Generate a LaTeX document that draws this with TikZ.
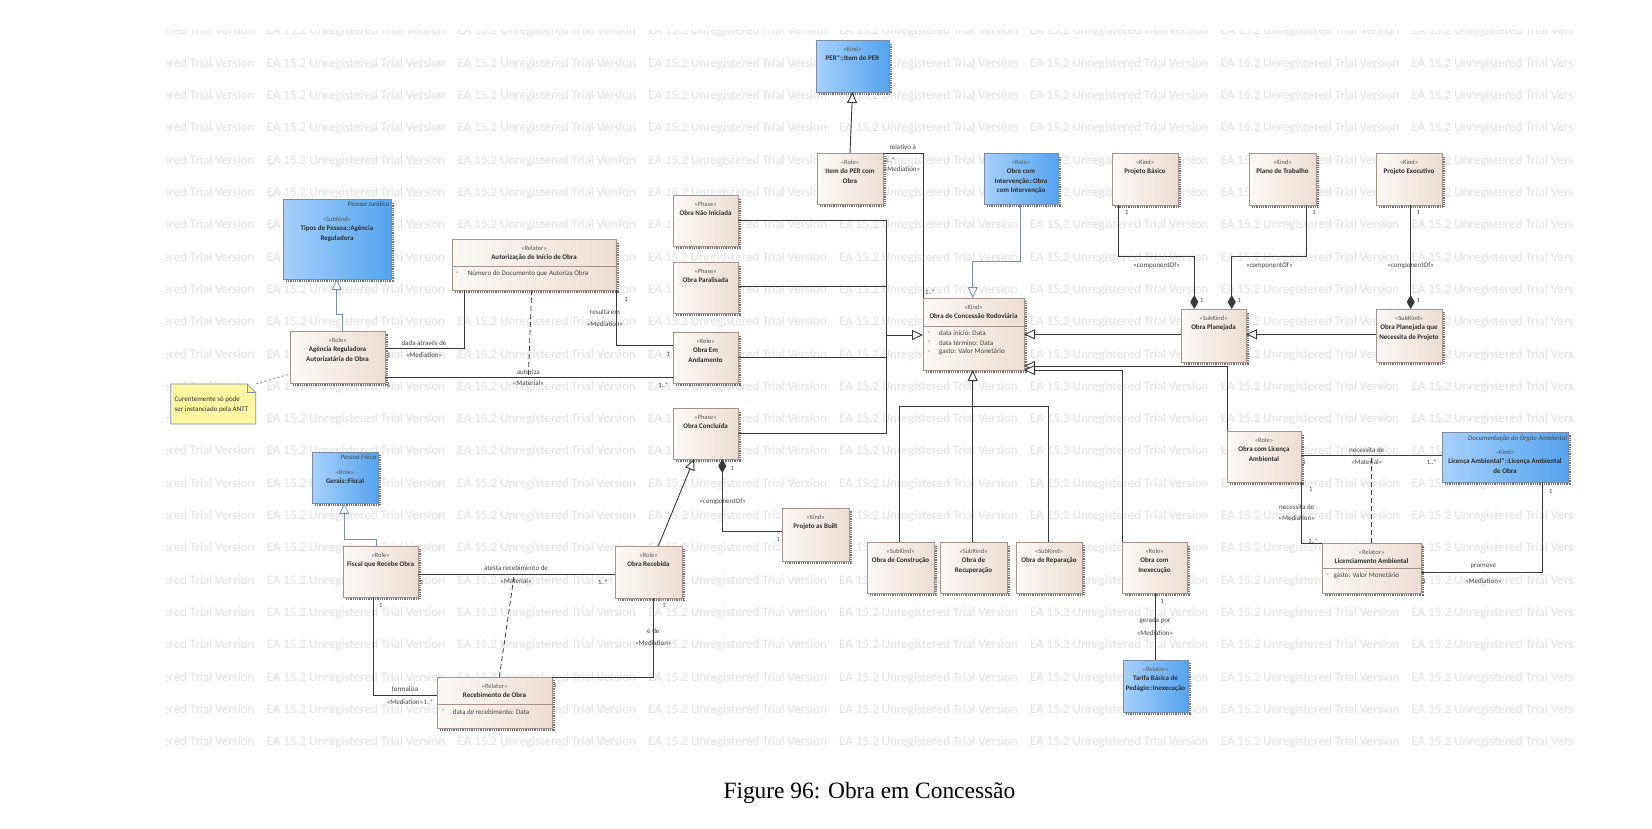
\documentclass[tikz,border=0pt]{standalone}
\usepackage{fontspec}
\setmainfont{Carlito}
\newfontfamily\capfont{Liberation Serif}
\usetikzlibrary{arrows.meta,calc}
\definecolor{lnc}{HTML}{3A3A3A}
\definecolor{genc}{HTML}{7F8FB2}
\definecolor{creamL}{HTML}{FCF9F5}
\definecolor{creamR}{HTML}{ECDDD3}
\definecolor{blueL}{HTML}{A6D1FA}
\definecolor{blueR}{HTML}{55A3F0}
\definecolor{bordc}{HTML}{A8948C}
\definecolor{bbord}{HTML}{7A8CA8}
\definecolor{notec}{HTML}{FBF7A0}
\definecolor{wmc}{HTML}{E2E2E2}
\definecolor{txtc}{HTML}{2E2E2E}
\definecolor{stc}{HTML}{5A5A5A}
\definecolor{lblc}{HTML}{444444}
\newcommand\stf{\fontsize{6.5}{8}\selectfont\color{stc}}
\newcommand\nmf{\fontsize{7}{9.4}\selectfont\bfseries\color{txtc}}
\tikzset{
  cream/.style={draw=bordc, line width=0.5pt, left color=creamL, right color=creamR},
  bluebox/.style={draw=bbord, line width=0.5pt, left color=blueL, right color=blueR},
  shadowl/.style={draw=black!55, line width=1.8pt, dash pattern=on 0.9pt off 0.9pt},
  assoc/.style={draw=lnc, line width=0.9pt},
  genl/.style={draw=lnc, line width=0.9pt, -{Triangle[length=11pt,width=10pt,fill=white]}},
  genb/.style={draw=genc, line width=0.8pt, -{Triangle[length=11pt,width=10pt,fill=white]}},
  compl/.style={draw=lnc, line width=0.9pt, -{Diamond[length=14pt,width=8pt]}},
  comps/.style={draw=lnc, line width=0.9pt, {Diamond[length=14pt,width=8pt]}-},
  dashl/.style={draw=lnc, line width=0.8pt, dash pattern=on 5pt off 3pt},
  notel/.style={draw=genc, line width=0.7pt, dash pattern=on 2.5pt off 2pt},
  lbl/.style={font=\fontsize{7}{8}\selectfont, text=lblc, inner sep=0pt},
  mult/.style={font=\fontsize{6.5}{8}\selectfont, text=lblc, inner sep=0pt},
  attr/.style={font=\fontsize{7}{8}\selectfont, text=lblc, inner sep=0pt, anchor=west},
  pkg/.style={font=\fontsize{6.8}{8}\selectfont\itshape, text=lblc, inner sep=0pt, anchor=north east},
  wm/.style={font=\fontsize{13}{15}\selectfont, text=wmc, inner sep=0pt, anchor=west},
}
\newcommand\umlbox[9][0]{%
  \node[#7, anchor=north west, inner sep=0pt, outer sep=0pt] (#2) at (#3,#4)
  {\makebox[\dimexpr #5pt-#3pt\relax][c]{\parbox[c][\dimexpr #6pt-#4pt\relax][t]{\dimexpr #5pt-#3pt+40pt\relax}{\centering\rule{0pt}{\dimexpr 11pt+#1pt\relax}{\stf #8}\par\vspace{0.3pt}{\nmf #9\par}}}};
  \draw[shadowl] ([xshift=3pt,yshift=-1.6pt]#2.south west) -- ([xshift=1.6pt,yshift=-1.6pt]#2.south east) -- ([xshift=1.6pt,yshift=-3pt]#2.north east);
}
\begin{document}
\begin{tikzpicture}[x=1pt,y=-1pt]
\useasboundingbox (0,0) rectangle (1652,828);
\fill[white] (0,0) rectangle (1652,828);
% watermark
\begin{scope}
\clip (166,30) rectangle (1572,746);
\foreach \r in {0,...,22}{\foreach \c in {-1,...,7}{
  \node[wm] (wm-\r-\c) at ({266.6+190.8*\c},{31.6+32.3*\r}) {EA 15.2 Unregistered Trial Version};}}
\end{scope}
% boxes
\umlbox{agencia}{290}{331}{385}{383}{cream}{«Role»}{Agência Reguladora\\Autorizatária de Obra}
\umlbox{autoriz}{452}{239}{616}{290}{cream}{«Relator»}{Autorização de Início de Obra}
\umlbox{naoinic}{673}{195}{738}{246}{cream}{«Phase»}{Obra Não Iniciada}
\umlbox{paralis}{673}{262}{738}{313}{cream}{«Phase»}{Obra Paralisada}
\umlbox{andam}{673}{332}{738}{383}{cream}{«Role»}{Obra Em\\Andamento}
\umlbox{conclu}{673}{408}{738}{459}{cream}{«Phase»}{Obra Concluída}
\umlbox{itemper}{817}{153}{883}{204}{cream}{«Role»}{Item do PER com\\Obra}
\umlbox{concess}{923}{298}{1024}{370}{cream}{«Kind»}{Obra de Concessão Rodoviária}
\umlbox{pbasico}{1112}{153}{1178}{205}{cream}{«Kind»}{Projeto Básico}
\umlbox{ptrab}{1249}{153}{1316}{205}{cream}{«Kind»}{Plano de Trabalho}
\umlbox{pexec}{1376}{153}{1442}{205}{cream}{«Kind»}{Projeto Executivo}
\umlbox{oplan}{1181}{309}{1246}{362}{cream}{«SubKind»}{Obra Planejada}
\umlbox{oplanp}{1376}{309}{1442}{362}{cream}{«SubKind»}{Obra Planejada que\\Necessita de Projeto}
\umlbox{licobra}{1227}{431}{1301}{482}{cream}{«Role»}{Obra com Licença\\Ambiental}
\umlbox{licenc}{1322}{543}{1421}{593}{cream}{«Relator»}{Licenciamento Ambiental}
\umlbox{inexec}{1122}{542}{1187}{593}{cream}{«Role»}{Obra com\\Inexecução}
\umlbox{constr}{867}{542}{934}{593}{cream}{«SubKind»}{Obra de Construção}
\umlbox{recup}{940}{542}{1007}{593}{cream}{«SubKind»}{Obra de\\Recuperação}
\umlbox{repar}{1016}{542}{1082}{593}{cream}{«SubKind»}{Obra de Reparação}
\umlbox{asbuilt}{782}{508}{849}{561}{cream}{«Kind»}{Projeto as Built}
\umlbox{recebida}{615}{546}{682}{598}{cream}{«Role»}{Obra Recebida}
\umlbox{fiscalr}{343}{546}{418}{597}{cream}{«Role»}{Fiscal que Recebe Obra}
\umlbox{receb}{437}{677}{552}{728}{cream}{«Relator»}{Recebimento de Obra}
\umlbox[11]{pessoaj}{283}{199}{391}{279}{bluebox}{«SubKind»}{Tipos de Pessoa::Agência\\Reguladora}
\umlbox{per}{816}{40}{889}{92}{bluebox}{«Kind»}{PER*::Item do PER}
\umlbox{interv}{984}{153}{1058}{204}{bluebox}{«Role»}{Obra com\\Intervenção::Obra\\com Intervenção}
\umlbox[11]{fiscal}{312}{452}{378}{503}{bluebox}{«Role»}{Gerais::Fiscal}
\umlbox[11]{licenca}{1442}{432}{1568}{482}{bluebox}{«Kind»}{Licença Ambiental*::Licença Ambiental\\de Obra}
\umlbox{tarifa}{1123}{660}{1188}{712}{bluebox}{«Relator»}{Tarifa Básica de\\Pedágio::Inexecução}
% package names
\node[pkg] (pessoaj-p) at ([xshift=-1.5pt,yshift=-3pt]pessoaj.north east) {Pessoa Jurídica};
\node[pkg] (fiscal-p) at ([xshift=-1.5pt,yshift=-3pt]fiscal.north east) {Pessoa Física};
\node[pkg] (licenca-p) at ([xshift=-1pt,yshift=-3pt]licenca.north east) {Documentação do Órgão Ambiental};
% compartments and attributes
\draw[bordc, line width=0.5pt] (autoriz.west |- 0,266.3) -- (autoriz.east |- 0,266.3);
\node[attr] (autoriz-d1) at (456,273.3) {-};
\node[attr] (autoriz-a1) at (467.7,273.3) {Número do Documento que Autoriza Obra};
\draw[bordc, line width=0.5pt] (concess.west |- 0,326) -- (concess.east |- 0,326);
\node[attr] (concess-d1) at (927.7,333.3) {-};
\node[attr] (concess-a1) at (939,333.3) {data início: Data};
\node[attr] (concess-d2) at (927.7,342.7) {-};
\node[attr] (concess-a2) at (939,342.7) {data término: Data};
\node[attr] (concess-d3) at (927.7,352) {-};
\node[attr] (concess-a3) at (939,352) {gasto: Valor Monetário};
\draw[bordc, line width=0.5pt] (licenc.west |- 0,568.3) -- (licenc.east |- 0,568.3);
\node[attr] (licenc-d1) at (1326.7,575.7) {-};
\node[attr] (licenc-a1) at (1333.3,575.7) {gasto: Valor Monetário};
\draw[bordc, line width=0.5pt] (receb.west |- 0,704.3) -- (receb.east |- 0,704.3);
\node[attr] (receb-d1) at (441.7,711.7) {-};
\node[attr] (receb-a1) at (452.7,711.7) {data de recebimento: Data};
% note
\node[inner sep=0pt, outer sep=0pt, minimum width=85pt, minimum height=40pt, anchor=north west] (note) at (170.7,384) {};
\filldraw[fill=notec, draw=genc, line width=0.6pt] (note.north west) -- ([xshift=-8.5pt]note.north east) -- ([yshift=-8.5pt]note.north east) -- (note.south east) -- (note.south west) -- cycle;
\draw[genc, line width=0.6pt] ([xshift=-8.5pt]note.north east) -- ([xshift=-8.5pt,yshift=-8.5pt]note.north east) -- ([yshift=-8.5pt]note.north east);
\node[font=\fontsize{7}{10}\selectfont, text=txtc, inner sep=0pt, anchor=west, align=left] (note-t) at (174.5,404.3) {Curentemente só pode\\ser instanciado pela ANTT};
\draw[notel] (note.north east) -- (agencia.west |- 0,374);
% connectors
\draw[assoc] (agencia.east |- 0,348.3) -| (autoriz.south -| 464.3,0);
\draw[assoc] (agencia.east |- 0,377.3) -- (andam.west |- 0,377.3);
\coordinate (autz-mid) at (528.3,377.3);
\draw[dashl] (autoriz.south -| 531.7,0) -- (autz-mid);
\draw[assoc] (autoriz.south east) |- (andam.west |- 0,345.7);
\coordinate (phbus) at (886,335);
\draw[assoc] (naoinic.east |- 0,220.7) -- (phbus |- 0,220.7) -- (phbus |- 0,433.3) -- (conclu.east |- 0,433.3);
\draw[assoc] (paralis.east |- 0,286.7) -- (phbus |- 0,286.7);
\draw[assoc] (andam.east |- 0,357.3) -- (phbus |- 0,357.3);
\draw[genl] (phbus) -- (concess.west |- phbus);
\draw[assoc] (itemper.north east) -- (concess.north west |- itemper.north east) -- (concess.north west);
\draw[genl] (itemper.north) -- (per.south);
\draw[genb] (interv.south -| 1020.7,0) -- (1020.7,261.7) -| (concess.north -| 972.7,0);
\draw[genl] (oplan.west |- 0,334.3) -- (concess.east |- 0,334.3);
\draw[genl] (licobra.north west) |- (concess.east |- 0,366);
\draw[genl] (inexec.north west) |- (concess.east |- 0,370);
\coordinate (skbus) at (972.7,406.7);
\draw[assoc] (constr.north -| 899.3,0) |- (skbus);
\draw[assoc] (repar.north -| 1048.3,0) |- (skbus);
\draw[genl] (recup.north -| 972.7,0) -- (concess.south -| 972.7,0);
\draw[compl] (pbasico.south -| 1118.3,0) |- (1194.3,256.7) -- (oplan.north -| 1194.3,0);
\draw[compl] (ptrab.south -| 1306.7,0) |- (1231.7,256.7) -- (oplan.north -| 1231.7,0);
\draw[compl] (pexec.south -| 1410.7,0) -- (oplanp.north -| 1410.7,0);
\draw[genl] (oplanp.west |- 0,334.3) -- (oplan.east |- 0,334.3);
\draw[assoc] (licobra.east |- 0,455.7) -- (licenca.west |- 0,455.7);
\coordinate (lic-mid) at (1371,455.7);
\draw[dashl] (licenc.north -| lic-mid) -- (lic-mid);
\draw[assoc] (licobra.south east) |- (licenc.north west);
\draw[assoc] (licenc.east |- 0,572.7) -| (licenca.south -| 1542.3,0);
\draw[assoc] (inexec.south -| 1155,0) -- (tarifa.north -| 1155,0);
\draw[genl] (recebida.north -| 658.3,0) -- (conclu.south -| 694,0);
\draw[comps] (conclu.south -| 722.3,0) |- (asbuilt.west |- 0,531);
\draw[assoc] (recebida.south -| 653.3,0) |- (receb.east |- 0,677.3);
\draw[assoc] (fiscalr.east |- 0,574.3) -- (recebida.west |- 0,574.3);
\coordinate (fr-mid) at (514.3,574.3);
\draw[dashl] (receb.north -| 499.3,0) -- (fr-mid);
\draw[assoc] (fiscalr.south -| 373.3,0) |- (receb.west |- 0,695.7);
\draw[genb] (fiscalr.north -| 376.7,0) -- (376.7,539.3) -| (fiscal.south -| 344.3,0);
\draw[genb] (agencia.north -| 342.7,0) -- (342.7,314) -| (pessoaj.south -| 336.7,0);
% labels
\node[lbl] (l1) at (424,342.7) {dada através de};
\node[lbl] (l2) at (424,355) {«Mediation»};
\node[mult] (m1) at (388.7,355.7) {1};
\node[lbl] (l3) at (528.3,371.7) {autoriza};
\node[lbl] (l4) at (528.3,383.3) {«Material»};
\node[mult] (m2) at (388.7,385) {1};
\node[mult] (m3) at (663.3,385) {1..*};
\node[lbl] (l5) at (605,312.5) {resulta em};
\node[lbl] (l6) at (605,324.3) {«Mediation»};
\node[mult] (m4) at (626,299.3) {1};
\node[mult] (m5) at (668.3,354) {1};
\node[lbl] (l7) at (902.7,147.3) {relativo à};
\node[mult] (m6) at (890,160) {1..*};
\node[lbl] (l8) at (902,169) {«Mediation»};
\node[mult] (m7) at (930,292.7) {1..*};
\node[lbl] (l9) at (1156.7,266) {«componentOf»};
\node[lbl] (l10) at (1269.3,266) {«componentOf»};
\node[lbl] (l11) at (1410.7,266) {«componentOf»};
\node[mult] (m8) at (1126.7,212.7) {1};
\node[mult] (m9) at (1201.7,300.7) {1};
\node[mult] (m10) at (1314,212.7) {1};
\node[mult] (m11) at (1239.3,300.7) {1};
\node[mult] (m12) at (1418.3,212.7) {1};
\node[mult] (m13) at (1418.3,300.7) {1};
\node[lbl] (l12) at (1366.7,450) {necessita de};
\node[lbl] (l13) at (1366.7,462.3) {«Material»};
\node[mult] (m14) at (1304,462.7) {1};
\node[mult] (m15) at (1431.7,462.7) {1..*};
\node[lbl] (l14) at (1296.7,507.3) {necessita de};
\node[lbl] (l15) at (1296.7,518.3) {«Mediation»};
\node[mult] (m16) at (1310.7,489.3) {1};
\node[mult] (m17) at (1313.3,541.7) {1..*};
\node[lbl] (l16) at (1483.3,566.7) {promove};
\node[lbl] (l17) at (1483.3,581) {«Mediation»};
\node[mult] (m18) at (1550.7,491.7) {1};
\node[mult] (m19) at (1424.3,581.7) {1};
\node[mult] (m20) at (1162.3,601) {1};
\node[lbl] (l18) at (1155,620.7) {gerada por};
\node[lbl] (l19) at (1155,633.3) {«Mediation»};
\node[lbl] (l20) at (722.7,501.7) {«componentOf»};
\node[mult] (m21) at (732.3,468.3) {1};
\node[mult] (m22) at (778.3,539.3) {1};
\node[mult] (m23) at (664,605) {1};
\node[lbl] (l21) at (653.3,631) {é de};
\node[lbl] (l22) at (653.3,643.3) {«Mediation»};
\node[mult] (m24) at (555,685.7) {1};
\node[lbl] (l23) at (516,568.3) {atesta recebimento de};
\node[lbl] (l24) at (516,581) {«Material»};
\node[mult] (m25) at (421.7,582.7) {1};
\node[mult] (m26) at (603,582.3) {1..*};
\node[lbl] (l25) at (405,689.3) {formaliza};
\node[lbl] (l26) at (405,702.3) {«Mediation»};
\node[mult] (m27) at (428.5,702.7) {1..*};
\node[mult] (m28) at (380.7,605) {1};
% caption
\node[font=\capfont\fontsize{23.4}{28}\selectfont, inner sep=0pt, anchor=base west] (caption) at (723.3,798.3) {Figure 96: Obra em Concessão};
\end{tikzpicture}
\end{document}
